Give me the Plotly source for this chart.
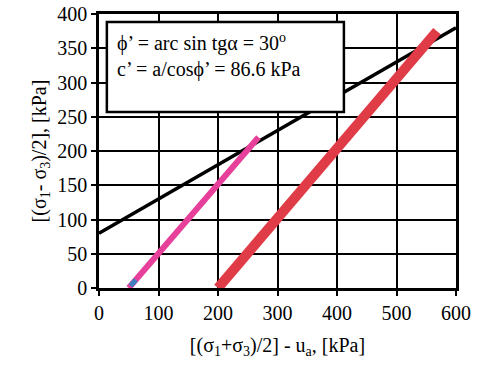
import plotly.graph_objects as go

# Failure envelope (black line)
env_x = [0, 600]
env_y = [80, 380]
# Pink stress path
pink_x = [50, 268]
pink_y = [0, 220]
# Blue short segment
blue_x = [53, 62]
blue_y = [3, 12]
# Red stress path
red_x = [200, 568]
red_y = [0, 375]

x_ticks = [0, 100, 200, 300, 400, 500, 600]
y_ticks = [0, 50, 100, 150, 200, 250, 300, 350, 400]

FONT = "Liberation Serif"
FS = 20

fig = go.Figure()
fig.add_trace(go.Scatter(x=env_x, y=env_y, mode="lines",
                         line=dict(color="black", width=3.5), showlegend=False))
fig.add_trace(go.Scatter(x=pink_x, y=pink_y, mode="lines",
                         line=dict(color="#e6409b", width=6), showlegend=False))
fig.add_trace(go.Scatter(x=blue_x, y=blue_y, mode="lines",
                         line=dict(color="#3f7fc0", width=5), showlegend=False))
fig.add_trace(go.Scatter(x=red_x, y=red_y, mode="lines",
                         line=dict(color="#e03c48", width=10), showlegend=False))

fig.add_shape(type="rect", xref="paper", yref="paper",
              x0=0.022, x1=0.686, y0=0.642, y1=0.971,
              line=dict(color="black", width=2.5), fillcolor="white", layer="above")

fig.add_annotation(xref="paper", yref="paper", x=0.045, y=0.895,
                   xanchor="left", yanchor="middle", showarrow=False,
                   text="\u03d5\u2019 = arc sin tg\u03b1 = 30<sup>o</sup>",
                   font=dict(family=FONT, size=FS, color="black"))
fig.add_annotation(xref="paper", yref="paper", x=0.045, y=0.797,
                   xanchor="left", yanchor="middle", showarrow=False,
                   text="c\u2019 = a/cos\u03d5\u2019 = 86.6 kPa",
                   font=dict(family=FONT, size=FS, color="black"))

axis_common = dict(showgrid=True, gridcolor="black", gridwidth=1.5,
                   showline=True, linecolor="black", linewidth=2.5, mirror=True,
                   ticks="outside", ticklen=5, tickwidth=1.5, tickcolor="black",
                   zeroline=False,
                   tickfont=dict(family=FONT, size=FS, color="black"))

fig.update_xaxes(range=[0, 600], tickvals=x_ticks, ticktext=[str(v) for v in x_ticks],
                 title=dict(text="[(\u03c3<sub>1</sub>+\u03c3<sub>3</sub>)/2] - u<sub>a</sub>, [kPa]",
                            font=dict(family=FONT, size=FS, color="black"), standoff=16),
                 **axis_common)
fig.update_yaxes(range=[0, 400], tickvals=y_ticks, ticktext=[str(v) for v in y_ticks],
                 title=dict(text="[(\u03c3<sub>1</sub>- \u03c3<sub>3</sub>)/2], [kPa]",
                            font=dict(family=FONT, size=FS, color="black"), standoff=6),
                 **axis_common)

fig.update_layout(width=480, height=367,
                  font=dict(family=FONT, size=FS, color="black"),
                  margin=dict(l=99, r=24, t=14, b=79, autoexpand=False),
                  paper_bgcolor="white", plot_bgcolor="white",
                  showlegend=False)

fig.write_html("out.html", config={"displayModeBar": False},
               post_script="document.body.style.margin='0';document.body.style.overflow='hidden';")
